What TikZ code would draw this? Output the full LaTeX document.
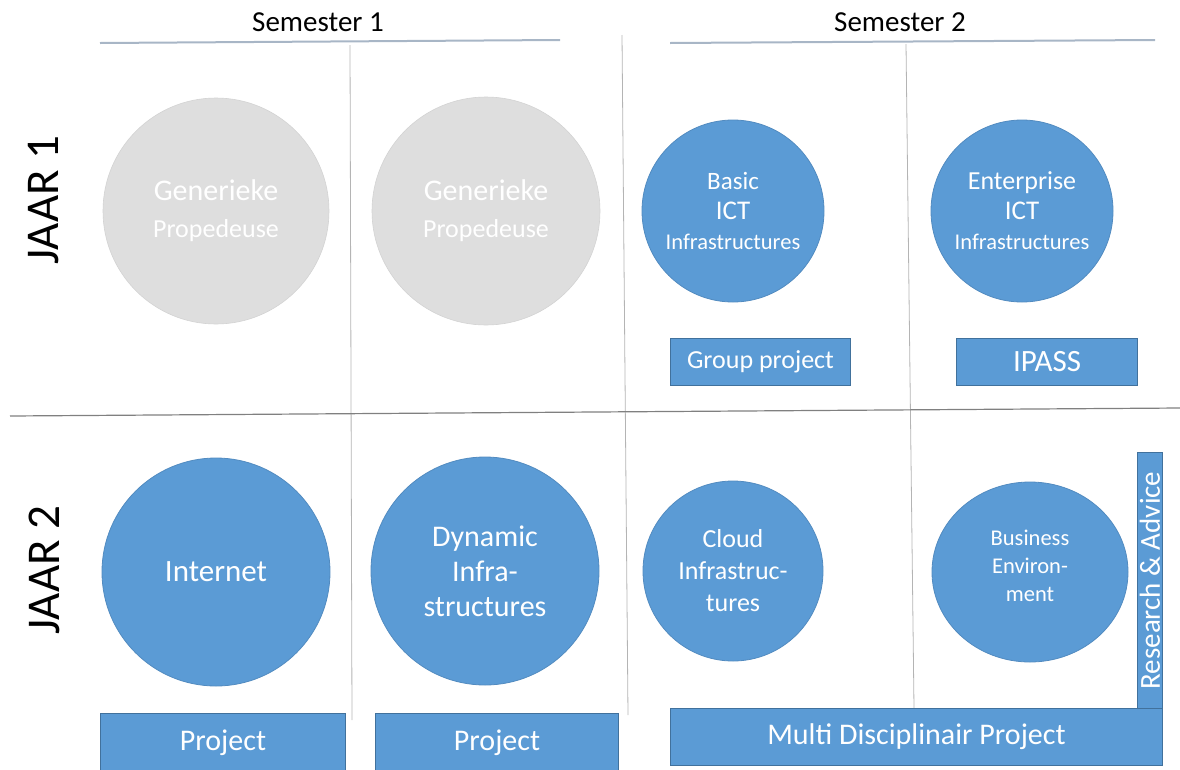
\documentclass[tikz,border=0pt]{standalone}
\usepackage{fontspec}
\setmainfont{Carlito}
\usetikzlibrary{shapes.geometric}
\definecolor{oblue}{HTML}{5B9BD5}
\definecolor{oborder}{HTML}{41719C}
\definecolor{ogray}{HTML}{DEDEDE}
\definecolor{hline}{HTML}{A8B6C6}
\definecolor{vline}{HTML}{B4B4B4}
\newcommand{\myfs}[1]{\fontsize{#1}{#1}\selectfont}
\tikzset{
  fs/.style={font=\fontsize{#1}{#1}\selectfont},
  fsb/.style 2 args={font=\fontsize{#1}{#2}\selectfont},
  bluecirc/.style={circle,fill=oblue,draw=oblue!90!black,line width=0.8pt,text=white,align=center,inner sep=0pt},
  graycirc/.style={circle,fill=ogray,draw=ogray!95!black,line width=0.6pt,text=white,align=center,inner sep=0pt},
  bluebox/.style={rectangle,fill=oblue,draw=oborder,line width=1pt,text=white,align=center,inner sep=0pt,anchor=north west},
  gridline/.style={vline,line width=0.8pt},
  headline/.style={hline,line width=2pt},
}
\begin{document}
\begin{tikzpicture}[x=1pt,y=-1pt]
\useasboundingbox (0,0) rectangle (1180,769);
% headers
\node[fs=29] (s1) at (318,22) {Semester 1};
\node[fs=29] (s2) at (900,22) {Semester 2};
\draw[headline] (100,43) -- (560,40);
\draw[headline] (670,43) -- (1155,40);
% grid lines
\draw[gridline] (350,45) -- (352,720);
\draw[gridline] (622,35) -- (628,715);
\draw[gridline] (906,44) -- (914,708);
\draw[gray,line width=1.2pt] (10,416) -- (1180,408);
% year labels
\node[fs=47,rotate=90] (j1) at (44,200) {JAAR 1};
\node[fs=47,rotate=90] (j2) at (44,570) {JAAR 2};
% year 1
\node[graycirc,minimum size=226pt,fsb={26}{37}] (g1) at (216,211) {{\myfs{30}Generieke}\\{\myfs{26}Propedeuse}};
\node[graycirc,minimum size=228pt,fsb={26}{37}] (g2) at (486,211) {{\myfs{30}Generieke}\\{\myfs{26}Propedeuse}};
\node[bluecirc,minimum size=182pt,fsb={24}{30}] (b1) at (733,211) {{\myfs{25}Basic}\\{\myfs{27}ICT}\\{\myfs{22.5}Infrastructures}};
\node[bluecirc,minimum size=182pt,fsb={24}{30}] (b2) at (1022,211) {{\myfs{26}Enterprise}\\{\myfs{27}ICT}\\{\myfs{22.5}Infrastructures}};
\node[bluebox,minimum width=180pt,minimum height=47pt,fs=26] (gp) at (670,338) {Group project};
\node[bluebox,minimum width=181pt,minimum height=47pt,fs=31] (ip) at (956,338) {IPASS};
% year 2
\node[bluecirc,minimum size=228pt,fs=31] (in) at (216,572) {Internet};
\node[bluecirc,minimum size=228pt,fsb={30}{35}] (dy) at (485,571) {Dynamic\\Infra-\\structures};
\node[bluecirc,minimum size=180pt,fsb={26}{32}] (cl) at (733,571) {Cloud\\Infrastruc-\\tures};
\node[ellipse,fill=oblue,draw=oblue!90!black,line width=0.8pt,inner sep=0pt,minimum width=196pt,minimum height=180pt] (be) at (1030,572) {};
\node[text=white,align=center,fsb={22.5}{28}] (betext) at ([yshift=6pt]be.center) {Business\\Environ-\\ment};
\node[bluebox,minimum width=25pt,minimum height=256pt] (ra) at (1137,452) {};
\node[fs=29,text=white,rotate=90] (ratext) at (ra.center) {Research \& Advice};
\node[bluebox,minimum width=492pt,minimum height=57pt,fs=30] (md) at (670,708) {Multi Disciplinair Project};
\node[bluebox,minimum width=245pt,minimum height=58pt,fs=30] (p1) at (100,713) {Project};
\node[bluebox,minimum width=243pt,minimum height=58pt,fs=30] (p2) at (375,713) {Project};
\end{tikzpicture}
\end{document}
